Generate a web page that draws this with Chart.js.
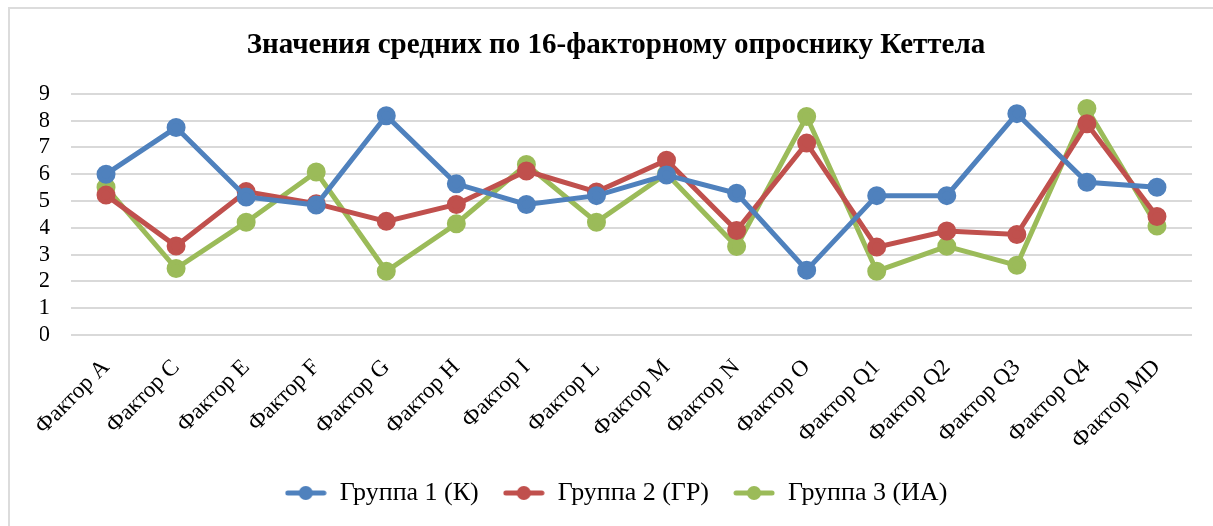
<!DOCTYPE html>
<html>
<head>
<meta charset="utf-8">
<script src="https://cdn.jsdelivr.net/npm/chart.js@4/dist/chart.umd.min.js"></script>
<style>
  html, body { margin: 0; padding: 0; background: #fff; overflow: hidden; }
  #frame {
    position: absolute; left: 8px; top: 7px; width: 1300px; height: 600px;
    border: 2px solid #dcdcdc; box-sizing: border-box;
  }
  #wrap { position: absolute; left: 0; top: 0; width: 1213px; height: 526px; }
</style>
</head>
<body>
<div id="frame"></div>
<div id="wrap"><canvas id="myLineChart" width="1213" height="526"></canvas></div>
<script>
var categories = ['Фактор A', 'Фактор C', 'Фактор E', 'Фактор F', 'Фактор G', 'Фактор H', 'Фактор I', 'Фактор L',
                  'Фактор M', 'Фактор N', 'Фактор O', 'Фактор Q1', 'Фактор Q2', 'Фактор Q3', 'Фактор Q4', 'Фактор MD'];
var group1 = [6.0, 7.74, 5.15, 4.85, 8.18, 5.64, 4.87, 5.2, 5.97, 5.29, 2.42, 5.2, 5.2, 8.26, 5.7, 5.51];
var group2 = [5.22, 3.32, 5.35, 4.9, 4.24, 4.87, 6.12, 5.34, 6.52, 3.9, 7.16, 3.28, 3.88, 3.75, 7.88, 4.42];
var group3 = [5.51, 2.48, 4.21, 6.08, 2.38, 4.15, 6.36, 4.21, 6.02, 3.3, 8.15, 2.38, 3.31, 2.6, 8.45, 4.07];
var seriesNames = ['Группа 1 (К)', 'Группа 2 (ГР)', 'Группа 3 (ИА)'];
var seriesColors = ['#4F81BD', '#C0504D', '#9BBB59'];
var yTicks = [0, 1, 2, 3, 4, 5, 6, 7, 8, 9];

var serif = "'Liberation Serif', 'Times New Roman', serif";

// маркер легенды: линия с кружком посередине
function legendMarker(color) {
    var c = document.createElement('canvas');
    c.width = 42; c.height = 16;
    var g = c.getContext('2d');
    g.strokeStyle = color;
    g.lineWidth = 5;
    g.lineCap = 'round';
    g.beginPath();
    g.moveTo(3, 8); g.lineTo(39, 8);
    g.stroke();
    g.fillStyle = color;
    g.beginPath();
    g.arc(21, 8, 7, 0, Math.PI * 2);
    g.fill();
    return c;
}

var allData = [group1, group2, group3];
var datasets = [];
for (var i = 0; i < allData.length; i++) {
    datasets.push({
        label: seriesNames[i],
        data: allData[i],
        borderColor: seriesColors[i],
        backgroundColor: seriesColors[i],
        pointBackgroundColor: seriesColors[i],
        pointBorderColor: seriesColors[i],
        borderWidth: 5,
        pointStyle: 'circle',
        pointRadius: 7,
        pointHoverRadius: 7,
        tension: 0,
        fill: false
    });
}

var ctx = document.getElementById('myLineChart').getContext('2d');
var myChart = new Chart(ctx, {
    type: 'line',
    data: {
        labels: categories,
        datasets: datasets
    },
    options: {
        responsive: false,
        animation: false,
        layout: { padding: { left: 40, right: 21, top: 0, bottom: 10 } },
        plugins: {
            title: {
                display: true,
                text: 'Значения средних по 16-факторному опроснику Кеттела',
                color: '#000',
                font: { family: serif, size: 29, weight: 'bold', lineHeight: 1.2 },
                padding: { top: 28, bottom: 31 }
            },
            legend: {
                position: 'bottom',
                labels: {
                    color: '#000',
                    font: { family: serif, size: 26 },
                    usePointStyle: true,
                    pointStyleWidth: 42,
                    boxHeight: 16,
                    padding: 24,
                    generateLabels: function(chart) {
                        return chart.data.datasets.map(function(ds, idx) {
                            return {
                                text: ds.label,
                                fillStyle: ds.borderColor,
                                strokeStyle: ds.borderColor,
                                lineWidth: 0,
                                pointStyle: legendMarker(ds.borderColor),
                                datasetIndex: idx,
                                fontColor: '#000'
                            };
                        });
                    }
                }
            },
            tooltip: { enabled: false }
        },
        scales: {
            x: {
                offset: true,
                grid: { display: false, drawTicks: false },
                border: { display: false },
                ticks: {
                    color: '#000',
                    font: { family: serif, size: 23 },
                    maxRotation: 45,
                    minRotation: 45,
                    autoSkip: false,
                    padding: 19
                },
                afterFit: function(scale) { scale.height = 121; }
            },
            y: {
                min: 0,
                max: 9,
                afterBuildTicks: function(scale) {
                    scale.ticks = yTicks.map(function(v) { return { value: v }; });
                },
                grid: { color: '#d9d9d9', lineWidth: 2, drawTicks: false },
                border: { display: false },
                ticks: {
                    color: '#000',
                    font: { family: serif, size: 23 },
                    padding: 21,
                    autoSkip: false,
                    stepSize: 1
                },
                afterFit: function(scale) { scale.width = 31; }
            }
        }
    }
});
</script>
</body>
</html>
